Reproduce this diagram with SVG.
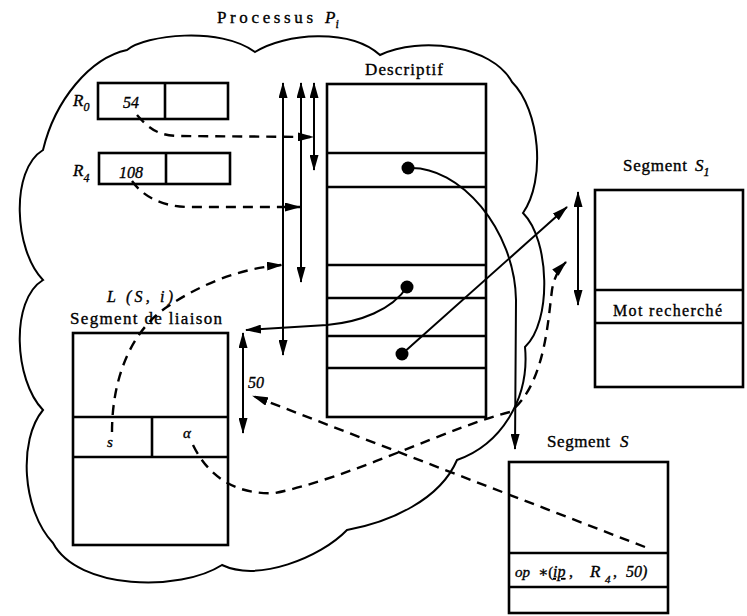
<svg xmlns="http://www.w3.org/2000/svg" width="747" height="616" viewBox="0 0 747 616">
<defs>
<marker id="ah" markerWidth="16" markerHeight="9" refX="15" refY="4.5" orient="auto-start-reverse" markerUnits="userSpaceOnUse"><path d="M0,0 L16,4.5 L0,9 Z" fill="#000"/></marker>
</defs>
<style>
.box{fill:none;stroke:#000;stroke-width:2.6}
.ln{fill:none;stroke:#000;stroke-width:2}
.ds{fill:none;stroke:#000;stroke-width:2.4;stroke-dasharray:10 7}
.cloud{fill:none;stroke:#000;stroke-width:2}
.t{font-family:"Liberation Serif","Times New Roman","DejaVu Serif",serif;fill:#000;stroke:#000;stroke-width:0.35}
.i{font-style:italic}
.dot{fill:#000}
.f17{font-size:17px}
.f16{font-size:16px}
.f15{font-size:15px}
.f12{font-size:12px}
.f11{font-size:11px}
</style>
<rect width="747" height="616" fill="#fff"/>

<g id="process-cloud">
<path class="cloud" d="M127,50 C145,35 220,26 255,52 C285,33 350,28 380,55 C420,36 492,45 512,82 C540,110 546,180 523,213 C550,240 552,322 525,347 C530,400 500,445 457,460 C440,500 390,522 347,530 C320,558 258,582 222,565 C180,592 78,590 53,543 C22,510 18,440 43,410 C14,380 10,300 43,280 C14,250 10,170 43,150 C55,100 90,58 127,50 Z"/>
<text class="t f17" x="217" y="23" textLength="96">Processus</text>
<text class="t i f17" x="325" y="23">P<tspan class="f12" dy="5">i</tspan></text>
</g>

<g id="R0">
<rect class="box" x="98" y="83" width="130" height="36"/>
<line class="box" x1="165" y1="83" x2="165" y2="119"/>
<text class="t i f16" x="131" y="108" text-anchor="middle">54</text>
<text class="t i f17" x="73" y="106">R<tspan class="f12" dy="5">0</tspan></text>
</g>

<g id="R4">
<rect class="box" x="99" y="153" width="131" height="31"/>
<line class="box" x1="166" y1="153" x2="166" y2="184"/>
<text class="t i f16" x="131" y="178" text-anchor="middle">108</text>
<text class="t i f17" x="73" y="176">R<tspan class="f12" dy="6">4</tspan></text>
</g>

<g id="descriptif">
<text class="t f17" x="365" y="75" textLength="78">Descriptif</text>
<rect class="box" x="327" y="84" width="159" height="333"/>
<line class="box" x1="327" y1="153" x2="486" y2="153"/>
<line class="box" x1="327" y1="187" x2="486" y2="187"/>
<line class="box" x1="327" y1="265" x2="486" y2="265"/>
<line class="box" x1="327" y1="298" x2="486" y2="298"/>
<line class="box" x1="327" y1="336" x2="486" y2="336"/>
<line class="box" x1="327" y1="368" x2="486" y2="368"/>
<circle class="dot" cx="408" cy="168" r="6.5"/>
<circle class="dot" cx="407" cy="287" r="6.5"/>
<circle class="dot" cx="402" cy="354" r="6.5"/>
</g>

<g id="segment-S1">
<text class="t f17" x="623" y="171" textLength="64">Segment</text>
<text class="t i f17" x="695" y="171">S<tspan class="f12" dy="5">1</tspan></text>
<rect class="box" x="595" y="190" width="148" height="197"/>
<line class="box" x1="595" y1="290" x2="743" y2="290"/>
<line class="box" x1="595" y1="323" x2="743" y2="323"/>
<text class="t f16" x="613" y="316" textLength="109">Mot recherché</text>
</g>

<g id="segment-liaison">
<text class="t i f16" x="107" y="302" textLength="66">L (S, i)</text>
<text class="t f17" x="70" y="324" textLength="152">Segment de liaison</text>
<rect class="box" x="73" y="333" width="155" height="212"/>
<line class="box" x1="73" y1="417" x2="228" y2="417"/>
<line class="box" x1="73" y1="457" x2="228" y2="457"/>
<line class="box" x1="152" y1="417" x2="152" y2="457"/>
<text class="t i f15" x="107" y="447">s</text>
<text class="t i f15" x="183" y="438">α</text>
</g>

<g id="segment-S">
<text class="t f17" x="547" y="447" textLength="63">Segment</text>
<text class="t i f17" x="620" y="447">S</text>
<rect class="box" x="509" y="462" width="159" height="151"/>
<line class="box" x1="509" y1="553" x2="668" y2="553"/>
<line class="box" x1="509" y1="587" x2="668" y2="587"/>
<text class="t i f15" x="515" y="577">op</text>
<text class="t f15" x="538" y="577">∗(</text>
<text class="t i f16" x="553" y="577" text-decoration="underline">ip</text>
<text class="t f16" x="569" y="577">,</text>
<text class="t i f17" x="590" y="577">R</text>
<text class="t i f11" x="605" y="583">4</text>
<text class="t f16" x="613" y="577">,</text>
<text class="t i f16" x="626" y="577">50)</text>
</g>

<g id="connectors">
<line class="ln" x1="283" y1="83" x2="283" y2="355" marker-start="url(#ah)" marker-end="url(#ah)"/>
<line class="ln" x1="301" y1="83" x2="301" y2="282" marker-start="url(#ah)" marker-end="url(#ah)"/>
<line class="ln" x1="314" y1="83" x2="314" y2="170" marker-start="url(#ah)" marker-end="url(#ah)"/>
<line class="ln" x1="243" y1="333" x2="243" y2="433" marker-start="url(#ah)" marker-end="url(#ah)"/>
<line class="ln" x1="578" y1="192" x2="578" y2="305" marker-start="url(#ah)" marker-end="url(#ah)"/>
<text class="t i f16" x="248" y="388">50</text>

<path class="ds" d="M137,115 C150,130 160,136 180,136 L313,137" marker-end="url(#ah)"/>
<path class="ds" d="M132,181 C142,195 160,207 190,207 L300,207" marker-end="url(#ah)"/>
<path class="ds" d="M112,432 C112,380 130,330 170,305 C200,285 240,268 282,265" marker-end="url(#ah)"/>
<path class="ds" d="M193,445 C210,480 240,495 275,493 C350,478 455,425 510,412 C545,385 548,320 552,290 C554,278 558,270 566,262" marker-end="url(#ah)"/>
<path class="ds" d="M645,547 L253,396" marker-end="url(#ah)"/>

<path class="ln" d="M408,168 C460,165 515,230 516,300 L515,449" marker-end="url(#ah)"/>
<path class="ln" d="M407,287 C392,310 360,322 327,325 L246,330" marker-end="url(#ah)"/>
<path class="ln" d="M402,354 L567,207" marker-end="url(#ah)"/>
</g>
</svg>
